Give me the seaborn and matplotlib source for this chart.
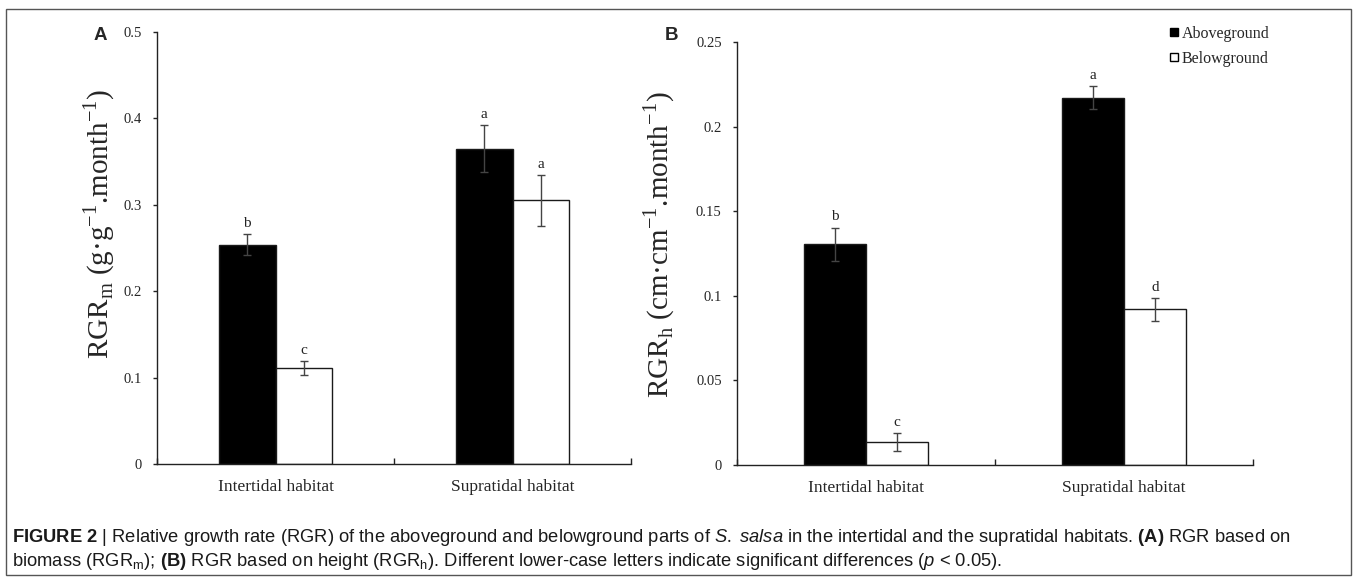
import matplotlib
matplotlib.use("Agg")
import matplotlib.pyplot as plt
from matplotlib import font_manager
from matplotlib.lines import Line2D
from matplotlib.patches import Rectangle
import numpy as np
import pandas as pd
import seaborn as sns

# ---- Data ----
HABITATS = ["Intertidal habitat", "Supratidal habitat"]
PARTS = ["Aboveground", "Belowground"]

# Panel A: RGR based on biomass
rgr_m_above = [0.254, 0.365]
rgr_m_below = [0.111, 0.305]
rgr_m_above_err = [0.012, 0.027]
rgr_m_below_err = [0.0085, 0.029]
letters_m_above = ["b", "a"]
letters_m_below = ["c", "a"]

# Panel B: RGR based on height
rgr_h_above = [0.1305, 0.2171]
rgr_h_below = [0.0136, 0.0921]
rgr_h_above_err = [0.0098, 0.0066]
rgr_h_below_err = [0.0052, 0.0067]
letters_h_above = ["b", "a"]
letters_h_below = ["c", "d"]

YTICKS_A = [0, 0.1, 0.2, 0.3, 0.4, 0.5]
YTICKS_B = [0, 0.05, 0.1, 0.15, 0.2, 0.25]
YTICKLABELS_A = ["0", "0.1", "0.2", "0.3", "0.4", "0.5"]
YTICKLABELS_B = ["0", "0.05", "0.1", "0.15", "0.2", "0.25"]

COLORS = {"Aboveground": "black", "Belowground": "white"}

sns.set_style("ticks")
available = {f.name for f in font_manager.fontManager.ttflist}
SERIF = "Liberation Serif"
CAPFONT = "Liberation Sans Narrow" if "Liberation Sans Narrow" in available else "Liberation Sans"
plt.rcParams["font.family"] = [SERIF, "DejaVu Serif"]
plt.rcParams["mathtext.fontset"] = "custom"
plt.rcParams["mathtext.rm"] = SERIF
plt.rcParams["mathtext.sf"] = CAPFONT
plt.rcParams["mathtext.it"] = CAPFONT + ":italic"
plt.rcParams["mathtext.bf"] = CAPFONT + ":bold"


def make_df(above, below, err_above, err_below, let_above, let_below):
    rows = []
    for i, hab in enumerate(HABITATS):
        rows.append({"Habitat": hab, "Part": "Aboveground", "RGR": above[i],
                     "SE": err_above[i], "Letter": let_above[i]})
        rows.append({"Habitat": hab, "Part": "Belowground", "RGR": below[i],
                     "SE": err_below[i], "Letter": let_below[i]})
    return pd.DataFrame(rows)


def draw_panel(ax, df, ymax, yticks, yticklabels, ylabel, label_xy):
    sns.barplot(data=df, x="Habitat", y="RGR", hue="Part", order=HABITATS,
                hue_order=PARTS, palette=COLORS, width=0.48, errorbar=None,
                edgecolor="#1a1a1a", linewidth=1.0, legend=False, ax=ax)

    # error bars + significance letters, matched to each drawn bar
    for p in ax.patches:
        h = p.get_height()
        if h <= 0:
            continue
        idx = int(np.argmin(np.abs(df["RGR"].values - h)))
        row = df.iloc[idx]
        xc = p.get_x() + p.get_width() / 2
        ax.errorbar(xc, h, yerr=row["SE"], fmt="none", ecolor="#444444",
                    elinewidth=1.0, capsize=3, capthick=1.0, zorder=5)
        ax.annotate(row["Letter"], (xc, h + row["SE"]), xytext=(0, 3),
                    textcoords="offset points", ha="center", va="bottom",
                    fontsize=11, color="#222222")

    ax.set_ylim(0, ymax)
    ax.set_xlim(-0.5, 1.5)
    ax.set_yticks(yticks)
    ax.set_yticklabels(yticklabels)
    ax.set_xticks([0, 1])
    ax.set_xticklabels(HABITATS)
    ax.set_xticks([-0.5, 0.5, 1.5], minor=True)
    ax.tick_params(axis="x", which="major", length=0, pad=11, labelsize=12.5)
    ax.tick_params(axis="x", which="minor", direction="in", length=4,
                   width=1, color="#222222")
    ax.tick_params(axis="y", direction="out", length=3, width=1, pad=8,
                   labelsize=10.5, color="#222222")
    ax.set_xlabel("")
    ax.set_ylabel(ylabel, fontsize=21)
    ax.yaxis.set_label_coords(*label_xy)
    sns.despine(ax=ax)
    for s in ["left", "bottom"]:
        ax.spines[s].set_color("#222222")
        ax.spines[s].set_linewidth(1.0)


fig = plt.figure(figsize=(13.57, 5.81), dpi=100)
W, H = 1357, 581

ax_a = fig.add_axes([157 / W, 1 - 464 / H, (631 - 157) / W, 432 / H])
ax_b = fig.add_axes([737 / W, 1 - 465 / H, (1253 - 737) / W, 423 / H])

df_m = make_df(rgr_m_above, rgr_m_below, rgr_m_above_err, rgr_m_below_err,
               letters_m_above, letters_m_below)
df_h = make_df(rgr_h_above, rgr_h_below, rgr_h_above_err, rgr_h_below_err,
               letters_h_above, letters_h_below)

draw_panel(ax_a, df_m, 0.5, YTICKS_A, YTICKLABELS_A,
           r"RGR$_{\mathrm{m}}$ (g·g$^{\mathrm{-1}}$.month$^{\mathrm{-1}}$)",
           (-0.085, 0.555))
draw_panel(ax_b, df_h, 0.25, YTICKS_B, YTICKLABELS_B,
           r"RGR$_{\mathrm{h}}$ (cm·cm$^{\mathrm{-1}}$.month$^{\mathrm{-1}}$)",
           (-0.117, 0.52))

# legend (panel B)
handles = [Line2D([], [], marker="s", linestyle="none", markersize=6,
                  markerfacecolor=COLORS[p], markeredgecolor="black",
                  markeredgewidth=1.0) for p in PARTS]
fig.legend(handles, PARTS, loc="upper left", bbox_to_anchor=(1168 / W, 1 - 26 / H),
           frameon=False, fontsize=11.5, handlelength=0.7, handletextpad=0.15,
           labelspacing=0.55, borderpad=0, borderaxespad=0)

# panel letters
fig.text(100 / W, 1 - 36 / H, "A", fontsize=13.5, fontweight="bold",
         family="Liberation Sans", ha="center", va="center")
fig.text(671 / W, 1 - 36 / H, "B", fontsize=13.5, fontweight="bold",
         family="Liberation Sans", ha="center", va="center")

# caption
line1 = (r"$\mathbf{FIGURE\ 2}$ | Relative growth rate (RGR) of the aboveground and "
         r"belowground parts of $\mathit{S.}$ $\mathit{salsa}$ in the intertidal and the supratidal "
         r"habitats. $\mathbf{(A)}$ RGR based on")
line2 = (r"biomass (RGR$_{\mathsf{m}}$); $\mathbf{(B)}$ RGR based on height "
         r"(RGR$_{\mathsf{h}}$). Different lower-case letters indicate significant "
         r"differences ($\mathit{p}$ < 0.05).")
cap1 = fig.text(12 / W, 1 - 537 / H, line1, fontsize=11, family=CAPFONT,
                ha="left", va="center", color="#1a1a1a")
cap2 = fig.text(12 / W, 1 - 562 / H, line2, fontsize=11, family=CAPFONT,
                ha="left", va="center", color="#1a1a1a")
fig.canvas.draw()
w1 = cap1.get_window_extent().width
scale = (1287 - 12) / w1
cap1.set_fontsize(11 * scale)
cap2.set_fontsize(11 * scale)

# outer frame
fig.patches.append(Rectangle((6 / W, 1 - 575 / H), (1351 - 6) / W, (575 - 9) / H,
                             transform=fig.transFigure, fill=False,
                             edgecolor="#555555", linewidth=1.0))

fig.savefig("out.png", dpi=100)
plt.close(fig)
